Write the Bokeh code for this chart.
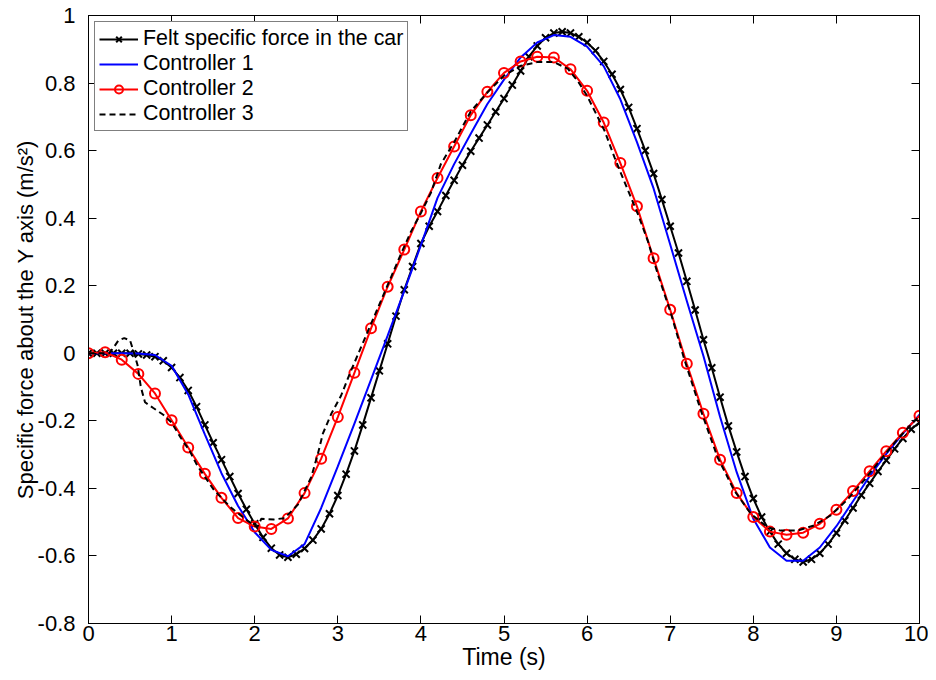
from bokeh.plotting import figure
from bokeh.models import (Range1d, FixedTicker, LinearAxis, Legend, LegendItem)
from bokeh.embed import file_html
from bokeh.resources import INLINE

# ---------------- data ----------------
# Felt specific force in the car (sampled every 0.1 s)
t_felt = [round(0.1 * i, 1) for i in range(101)]
felt = [0.000, 0.000, 0.000, 0.000, 0.000, 0.000, -0.002, -0.005, -0.010, -0.022,
        -0.042, -0.072, -0.110, -0.158, -0.212, -0.265, -0.315, -0.365, -0.415, -0.462,
        -0.505, -0.545, -0.577, -0.597, -0.604, -0.595, -0.578, -0.553, -0.520, -0.475,
        -0.421, -0.358, -0.289, -0.212, -0.132, -0.052, 0.028, 0.110, 0.188, 0.257,
        0.325, 0.376, 0.420, 0.467, 0.512, 0.557, 0.598, 0.637, 0.676, 0.715,
        0.754, 0.794, 0.836, 0.878, 0.910, 0.934, 0.948, 0.952, 0.948, 0.937,
        0.920, 0.896, 0.864, 0.826, 0.781, 0.728, 0.665, 0.600, 0.532, 0.455,
        0.376, 0.297, 0.213, 0.128, 0.040, -0.043, -0.130, -0.215, -0.292, -0.365,
        -0.430, -0.485, -0.528, -0.565, -0.592, -0.610, -0.618, -0.610, -0.592, -0.565,
        -0.532, -0.495, -0.458, -0.420, -0.385, -0.350, -0.317, -0.283, -0.252, -0.225,
        -0.205]

# Controller 1 (every 0.2 s)
t_c1 = [round(0.2 * i, 1) for i in range(51)]
c1 = [0.000, 0.000, 0.000, -0.001, -0.005, -0.037, -0.122, -0.240, -0.355, -0.452,
      -0.530, -0.582, -0.601, -0.565, -0.458, -0.335, -0.208, -0.078, 0.052, 0.185,
      0.320, 0.460, 0.560, 0.650, 0.738, 0.810, 0.876, 0.920, 0.942, 0.937,
      0.908, 0.850, 0.752, 0.625, 0.488, 0.322, 0.155, -0.008, -0.188, -0.352,
      -0.490, -0.575, -0.614, -0.614, -0.575, -0.512, -0.438, -0.364, -0.298, -0.238,
      -0.182]

# Controller 2 (every 0.2 s)
t_c2 = [round(0.2 * i, 1) for i in range(51)]
c2 = [0.000, 0.003, -0.019, -0.061, -0.119, -0.198, -0.279, -0.357, -0.428, -0.488,
      -0.513, -0.520, -0.489, -0.414, -0.312, -0.189, -0.058, 0.074, 0.197, 0.307,
      0.420, 0.519, 0.612, 0.705, 0.774, 0.830, 0.864, 0.878, 0.876, 0.841,
      0.777, 0.683, 0.563, 0.435, 0.281, 0.129, -0.031, -0.179, -0.315, -0.414,
      -0.485, -0.528, -0.537, -0.531, -0.505, -0.463, -0.408, -0.349, -0.290, -0.235,
      -0.185]

# Controller 3 (irregular readings)
t_c3 = [0.0, 0.25, 0.31, 0.36, 0.43, 0.50, 0.55, 0.59, 0.63, 0.68, 0.78, 0.90, 1.0,
        1.11, 1.22, 1.31, 1.51, 1.71, 1.91, 2.03, 2.08, 2.23, 2.36, 2.52, 2.68, 2.76,
        2.82, 2.92, 3.04, 3.16, 3.28, 3.40, 3.52, 3.64, 3.76, 3.88, 4.0, 4.12, 4.24,
        4.40, 4.60, 4.80, 5.0, 5.2, 5.4, 5.6, 5.77, 5.89, 6.0, 6.21, 6.33, 6.41, 6.61,
        6.73, 6.85, 7.01, 7.17, 7.37, 7.57, 7.77, 7.97, 8.17, 8.33, 8.53, 8.73, 8.93,
        9.13, 9.33, 9.54, 9.74, 10.0]
c3 = [0.0, 0.0, 0.02, 0.038, 0.045, 0.038, 0.0, -0.035, -0.10, -0.145, -0.162, -0.182, -0.205,
      -0.25, -0.29, -0.333, -0.405, -0.456, -0.495, -0.515, -0.49, -0.492, -0.488, -0.448,
      -0.367, -0.298, -0.238, -0.18, -0.125, -0.051, 0.018, 0.087, 0.156, 0.225, 0.294,
      0.36, 0.415, 0.475, 0.56, 0.625, 0.716, 0.772, 0.822, 0.851, 0.862, 0.862, 0.842,
      0.805, 0.762, 0.659, 0.58, 0.531, 0.413, 0.333, 0.235, 0.117, -0.018, -0.17, -0.308,
      -0.406, -0.475, -0.515, -0.525, -0.525, -0.51, -0.48, -0.434, -0.377, -0.313, -0.253,
      -0.185]

series_labels = ["Felt specific force in the car", "Controller 1", "Controller 2", "Controller 3"]

x_ticks = [0, 1, 2, 3, 4, 5, 6, 7, 8, 9, 10]
y_ticks = [-0.8, -0.6, -0.4, -0.2, 0.0, 0.2, 0.4, 0.6, 0.8, 1.0]
y_tick_labels = ["-0.8", "-0.6", "-0.4", "-0.2", "0", "0.2", "0.4", "0.6", "0.8", "1"]

FONT = "Liberation Sans"

# ---------------- figure ----------------
p = figure(width=928, height=680, x_range=Range1d(0, 10), y_range=Range1d(-0.8, 1),
           output_backend="svg", toolbar_location=None,
           min_border_left=88, min_border_right=9, min_border_top=15, min_border_bottom=57)
p.grid.visible = False
p.outline_line_color = "black"
p.outline_line_width = 1
p.background_fill_color = "white"
p.border_fill_color = "white"

felt_line = p.line(t_felt, felt, line_color="black", line_width=2)
felt_pts = p.scatter(t_felt, felt, marker="x", size=10, line_color="black", line_width=2)
c1_line = p.line(t_c1, c1, line_color="#0000ff", line_width=2)
c2_line = p.line(t_c2, c2, line_color="#ff0000", line_width=2)
c2_pts = p.scatter(t_c2, c2, marker="circle", size=10, line_color="#ff0000",
                   fill_color=None, line_width=2)
c3_line = p.line(t_c3, c3, line_color="black", line_width=2, line_dash="6 4")

# axes
for ax in (p.xaxis[0], p.yaxis[0]):
    ax.major_tick_in = 8
    ax.major_tick_out = 0
    ax.major_tick_line_width = 1
    ax.minor_tick_line_color = None
    ax.axis_line_color = "black"
    ax.major_tick_line_color = "black"
    ax.major_label_text_font = FONT
    ax.major_label_text_font_size = "22px"
    ax.major_label_text_color = "black"
    ax.axis_label_text_font = FONT
    ax.axis_label_text_font_style = "normal"
    ax.axis_label_text_color = "black"

p.xaxis.ticker = FixedTicker(ticks=x_ticks)
p.yaxis.ticker = FixedTicker(ticks=y_ticks)
p.yaxis.major_label_overrides = {v: s for v, s in zip(y_ticks, y_tick_labels)}
p.xaxis.axis_label = "Time (s)"
p.yaxis.axis_label = "Specific force about the Y axis (m/s²)"
p.xaxis.axis_label_text_font_size = "23px"
p.yaxis.axis_label_text_font_size = "22px"
p.xaxis.major_label_standoff = 2
p.xaxis.axis_label_standoff = 0
p.yaxis.major_label_standoff = 13
p.yaxis.axis_label_standoff = -3

# mirrored tick axes on top and right (ticks only, no labels)
for side, ticks in (("above", x_ticks), ("right", y_ticks)):
    ax = LinearAxis(ticker=FixedTicker(ticks=ticks), major_label_text_font_size="1px",
                    major_label_text_color=None,
                    major_label_standoff=0, major_tick_in=8, major_tick_out=0,
                    minor_tick_line_color=None, axis_line_color="black",
                    major_tick_line_color="black")
    p.add_layout(ax, side)

legend = Legend(items=[
    LegendItem(label=series_labels[0], renderers=[felt_line, felt_pts]),
    LegendItem(label=series_labels[1], renderers=[c1_line]),
    LegendItem(label=series_labels[2], renderers=[c2_line, c2_pts]),
    LegendItem(label=series_labels[3], renderers=[c3_line]),
], location="top_left")
legend.border_line_color = "black"
legend.border_line_width = 1.5
legend.background_fill_color = "white"
legend.background_fill_alpha = 1
legend.label_text_font = FONT
legend.label_text_font_size = "21.4px"
legend.label_text_color = "black"
legend.glyph_width = 39
legend.glyph_height = 20
legend.label_height = 25
legend.spacing = 0
legend.padding = 4
legend.margin = 6
legend.label_standoff = 5
p.add_layout(legend)

open("out.html", "w").write(file_html(p, INLINE))
